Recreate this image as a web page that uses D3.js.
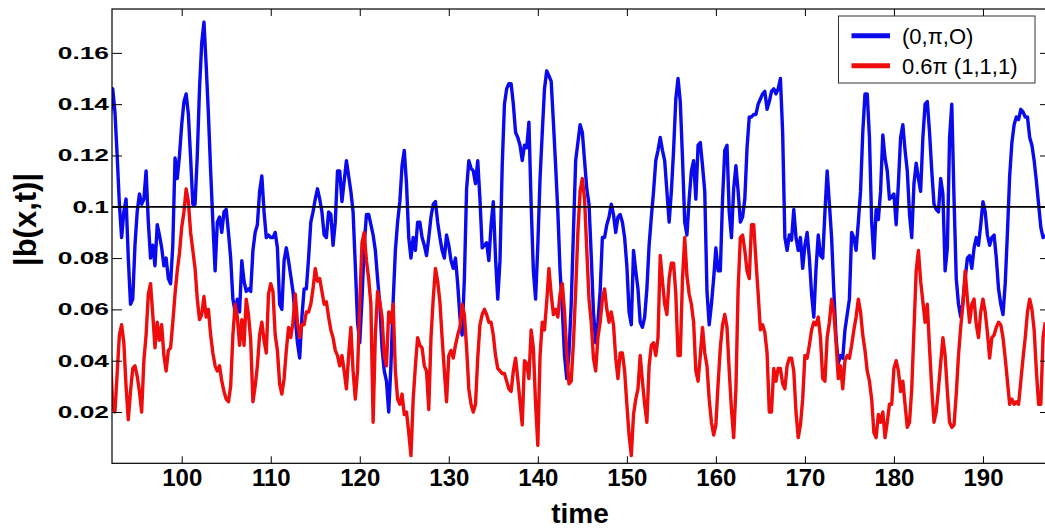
<!DOCTYPE html>
<html>
<head>
<meta charset="utf-8">
<script src="https://cdn.jsdelivr.net/npm/d3@7"></script>
<style>
  html, body { margin: 0; padding: 0; background: #fff; }
  svg { display: block; font-family: "Liberation Sans", Arial, Helvetica, sans-serif; }
</style>
</head>
<body>
<svg id="chart" width="1045" height="529"></svg>
<script>
// sampling grid of the time axis
const tStart = 92;
const tStep = 0.25;

// |b(x,t)| for (0,pi,O)  -- four samples per time unit
const blueValues = [
  0.136, 0.146, 0.137, 0.120,  // 92
  0.101, 0.088, 0.098, 0.103,  // 93
  0.080, 0.062, 0.064, 0.085,  // 94
  0.098, 0.105, 0.101, 0.103,  // 95
  0.114, 0.094, 0.080, 0.085,  // 96
  0.077, 0.093, 0.089, 0.084,  // 97
  0.077, 0.080, 0.072, 0.070,  // 98
  0.085, 0.119, 0.111, 0.120,  // 99
  0.132, 0.141, 0.144, 0.136,  // 100
  0.119, 0.101, 0.101, 0.120,  // 101
  0.146, 0.164, 0.172, 0.155,  // 102
  0.136, 0.114, 0.094, 0.075,  // 103
  0.094, 0.096, 0.090, 0.098,  // 104
  0.099, 0.090, 0.080, 0.064,  // 105
  0.059, 0.064, 0.059, 0.079,  // 106
  0.071, 0.067, 0.068, 0.067,  // 107
  0.083, 0.090, 0.093, 0.106,  // 108
  0.112, 0.098, 0.088, 0.089,  // 109
  0.088, 0.088, 0.090, 0.084,  // 110
  0.062, 0.060, 0.079, 0.084,  // 111
  0.079, 0.073, 0.067, 0.057,  // 112
  0.047, 0.041, 0.057, 0.068,  // 113
  0.068, 0.080, 0.094, 0.098,  // 114
  0.103, 0.107, 0.103, 0.098,  // 115
  0.089, 0.088, 0.098, 0.097,  // 116
  0.085, 0.094, 0.114, 0.114,  // 117
  0.102, 0.110, 0.118, 0.112,  // 118
  0.106, 0.098, 0.077, 0.055,  // 119
  0.047, 0.064, 0.085, 0.097,  // 120
  0.097, 0.093, 0.089, 0.083,  // 121
  0.072, 0.062, 0.045, 0.036,  // 122
  0.032, 0.020, 0.038, 0.063,  // 123
  0.083, 0.094, 0.102, 0.116,  // 124
  0.122, 0.109, 0.088, 0.080,  // 125
  0.088, 0.083, 0.094, 0.094,  // 126
  0.088, 0.085, 0.081, 0.088,  // 127
  0.096, 0.101, 0.102, 0.094,  // 128
  0.088, 0.083, 0.080, 0.089,  // 129
  0.085, 0.079, 0.076, 0.080,  // 130
  0.070, 0.057, 0.050, 0.072,  // 131
  0.107, 0.118, 0.115, 0.114,  // 132
  0.109, 0.118, 0.103, 0.084,  // 133
  0.085, 0.086, 0.079, 0.093,  // 134
  0.102, 0.080, 0.064, 0.079,  // 135
  0.116, 0.140, 0.146, 0.148,  // 136
  0.148, 0.140, 0.129, 0.127,  // 137
  0.124, 0.118, 0.124, 0.123,  // 138
  0.133, 0.101, 0.075, 0.064,  // 139
  0.085, 0.111, 0.129, 0.146,  // 140
  0.153, 0.151, 0.149, 0.133,  // 141
  0.116, 0.098, 0.075, 0.060,  // 142
  0.042, 0.033, 0.043, 0.062,  // 143
  0.090, 0.118, 0.125, 0.132,  // 144
  0.129, 0.118, 0.107, 0.101,  // 145
  0.081, 0.059, 0.047, 0.055,  // 146
  0.067, 0.088, 0.088, 0.093,  // 147
  0.096, 0.101, 0.097, 0.090,  // 148
  0.096, 0.097, 0.094, 0.088,  // 149
  0.077, 0.059, 0.054, 0.083,  // 150
  0.075, 0.068, 0.055, 0.053,  // 151
  0.057, 0.068, 0.085, 0.096,  // 152
  0.106, 0.118, 0.122, 0.127,  // 153
  0.122, 0.118, 0.106, 0.094,  // 154
  0.106, 0.122, 0.142, 0.150,  // 155
  0.141, 0.119, 0.094, 0.089,  // 156
  0.103, 0.114, 0.118, 0.103,  // 157
  0.124, 0.125, 0.116, 0.106,  // 158
  0.067, 0.054, 0.062, 0.072,  // 159
  0.084, 0.075, 0.075, 0.103,  // 160
  0.122, 0.124, 0.098, 0.088,  // 161
  0.107, 0.116, 0.106, 0.094,  // 162
  0.096, 0.103, 0.123, 0.135,  // 163
  0.135, 0.136, 0.136, 0.140,  // 164
  0.142, 0.144, 0.145, 0.138,  // 165
  0.141, 0.145, 0.146, 0.144,  // 166
  0.146, 0.150, 0.129, 0.088,  // 167
  0.083, 0.089, 0.087, 0.099,  // 168
  0.088, 0.083, 0.088, 0.076,  // 169
  0.085, 0.090, 0.080, 0.066,  // 170
  0.057, 0.076, 0.089, 0.081,  // 171
  0.080, 0.098, 0.114, 0.101,  // 172
  0.088, 0.067, 0.049, 0.039,  // 173
  0.042, 0.041, 0.052, 0.058,  // 174
  0.064, 0.090, 0.088, 0.083,  // 175
  0.094, 0.106, 0.129, 0.144,  // 176
  0.144, 0.127, 0.094, 0.080,  // 177
  0.099, 0.095, 0.106, 0.128,  // 178
  0.119, 0.114, 0.103, 0.104,  // 179
  0.105, 0.093, 0.109, 0.127,  // 180
  0.132, 0.122, 0.114, 0.097,  // 181
  0.088, 0.109, 0.117, 0.111,  // 182
  0.106, 0.127, 0.140, 0.141,  // 183
  0.129, 0.114, 0.101, 0.099,  // 184
  0.098, 0.111, 0.105, 0.075,  // 185
  0.084, 0.127, 0.140, 0.103,  // 186
  0.072, 0.062, 0.057, 0.063,  // 187
  0.072, 0.080, 0.081, 0.076,  // 188
  0.084, 0.088, 0.085, 0.093,  // 189
  0.102, 0.098, 0.089, 0.085,  // 190
  0.088, 0.089, 0.080, 0.068,  // 191
  0.062, 0.058, 0.070, 0.090,  // 192
  0.112, 0.125, 0.132, 0.135,  // 193
  0.134, 0.138, 0.137, 0.135,  // 194
  0.135, 0.127, 0.124, 0.118,  // 195
  0.110, 0.101, 0.092, 0.088,  // 196
  0.089                        // 197
];

// |b(x,t)| for 0.6pi (1,1,1)
const redValues = [
  0.042, 0.022, 0.020, 0.035,  // 92
  0.050, 0.054, 0.047, 0.030,  // 93
  0.017, 0.028, 0.037, 0.038,  // 94
  0.034, 0.028, 0.020, 0.040,  // 95
  0.050, 0.066, 0.070, 0.058,  // 96
  0.045, 0.055, 0.048, 0.054,  // 97
  0.042, 0.036, 0.044, 0.045,  // 98
  0.055, 0.066, 0.075, 0.082,  // 99
  0.092, 0.098, 0.107, 0.102,  // 100
  0.090, 0.083, 0.076, 0.064,  // 101
  0.056, 0.058, 0.065, 0.057,  // 102
  0.060, 0.050, 0.043, 0.038,  // 103
  0.036, 0.038, 0.032, 0.028,  // 104
  0.025, 0.024, 0.030, 0.050,  // 105
  0.062, 0.057, 0.046, 0.056,  // 106
  0.046, 0.064, 0.058, 0.048,  // 107
  0.024, 0.030, 0.038, 0.050,  // 108
  0.055, 0.048, 0.043, 0.066,  // 109
  0.070, 0.067, 0.050, 0.044,  // 110
  0.031, 0.027, 0.033, 0.044,  // 111
  0.053, 0.049, 0.055, 0.066,  // 112
  0.055, 0.049, 0.054, 0.054,  // 113
  0.059, 0.059, 0.062, 0.068,  // 114
  0.076, 0.071, 0.072, 0.067,  // 115
  0.062, 0.063, 0.057, 0.052,  // 116
  0.049, 0.044, 0.042, 0.038,  // 117
  0.042, 0.036, 0.029, 0.042,  // 118
  0.053, 0.036, 0.025, 0.036,  // 119
  0.062, 0.086, 0.090, 0.079,  // 120
  0.072, 0.062, 0.016, 0.050,  // 121
  0.067, 0.063, 0.057, 0.042,  // 122
  0.038, 0.059, 0.055, 0.062,  // 123
  0.036, 0.025, 0.023, 0.027,  // 124
  0.019, 0.020, 0.012, 0.003,  // 125
  0.025, 0.038, 0.049, 0.046,  // 126
  0.045, 0.038, 0.036, 0.021,  // 127
  0.049, 0.064, 0.076, 0.071,  // 128
  0.063, 0.049, 0.036, 0.024,  // 129
  0.042, 0.044, 0.041, 0.046,  // 130
  0.050, 0.053, 0.062, 0.058,  // 131
  0.045, 0.029, 0.023, 0.020,  // 132
  0.023, 0.041, 0.054, 0.058,  // 133
  0.060, 0.058, 0.055, 0.055,  // 134
  0.050, 0.042, 0.037, 0.036,  // 135
  0.035, 0.035, 0.032, 0.029,  // 136
  0.028, 0.036, 0.041, 0.033,  // 137
  0.024, 0.015, 0.040, 0.039,  // 138
  0.033, 0.052, 0.045, 0.023,  // 139
  0.007, 0.042, 0.055, 0.052,  // 140
  0.063, 0.076, 0.066, 0.058,  // 141
  0.060, 0.057, 0.066, 0.070,  // 142
  0.059, 0.043, 0.031, 0.032,  // 143
  0.047, 0.067, 0.090, 0.106,  // 144
  0.111, 0.103, 0.083, 0.064,  // 145
  0.055, 0.041, 0.036, 0.049,  // 146
  0.055, 0.064, 0.068, 0.060,  // 147
  0.055, 0.059, 0.054, 0.041,  // 148
  0.033, 0.043, 0.043, 0.036,  // 149
  0.023, 0.011, 0.003, 0.019,  // 150
  0.025, 0.029, 0.042, 0.032,  // 151
  0.023, 0.016, 0.038, 0.046,  // 152
  0.047, 0.042, 0.049, 0.081,  // 153
  0.071, 0.062, 0.058, 0.072,  // 154
  0.078, 0.078, 0.066, 0.042,  // 155
  0.042, 0.072, 0.088, 0.073,  // 156
  0.066, 0.062, 0.055, 0.036,  // 157
  0.032, 0.042, 0.053, 0.043,  // 158
  0.038, 0.025, 0.016, 0.011,  // 159
  0.015, 0.031, 0.045, 0.054,  // 160
  0.058, 0.053, 0.036, 0.021,  // 161
  0.010, 0.029, 0.068, 0.088,  // 162
  0.089, 0.083, 0.075, 0.072,  // 163
  0.093, 0.093, 0.079, 0.066,  // 164
  0.052, 0.054, 0.051, 0.043,  // 165
  0.020, 0.020, 0.037, 0.032,  // 166
  0.037, 0.037, 0.031, 0.029,  // 167
  0.038, 0.041, 0.041, 0.036,  // 168
  0.020, 0.010, 0.015, 0.025,  // 169
  0.042, 0.041, 0.046, 0.052,  // 170
  0.055, 0.054, 0.057, 0.049,  // 171
  0.033, 0.032, 0.049, 0.055,  // 172
  0.064, 0.059, 0.047, 0.033,  // 173
  0.038, 0.029, 0.040, 0.042,  // 174
  0.041, 0.046, 0.052, 0.057,  // 175
  0.064, 0.059, 0.050, 0.044,  // 176
  0.036, 0.032, 0.025, 0.012,  // 177
  0.010, 0.019, 0.016, 0.020,  // 178
  0.010, 0.016, 0.023, 0.023,  // 179
  0.037, 0.040, 0.036, 0.028,  // 180
  0.032, 0.023, 0.014, 0.016,  // 181
  0.029, 0.052, 0.075, 0.083,  // 182
  0.071, 0.063, 0.055, 0.062,  // 183
  0.045, 0.029, 0.016, 0.020,  // 184
  0.029, 0.039, 0.049, 0.042,  // 185
  0.028, 0.016, 0.014, 0.015,  // 186
  0.027, 0.042, 0.053, 0.062,  // 187
  0.075, 0.064, 0.055, 0.062,  // 188
  0.064, 0.054, 0.049, 0.059,  // 189
  0.064, 0.059, 0.051, 0.041,  // 190
  0.049, 0.050, 0.053, 0.055,  // 191
  0.054, 0.049, 0.041, 0.032,  // 192
  0.023, 0.025, 0.023, 0.024,  // 193
  0.023, 0.032, 0.041, 0.049,  // 194
  0.059, 0.064, 0.060, 0.052,  // 195
  0.036, 0.023, 0.023, 0.049,  // 196
  0.055                        // 197
];

const seriesNames = ["(0,\u03c0,O)", "0.6\u03c0 (1,1,1)"];
const seriesColors = ["#0a0aee", "#ee0c0c"];
const xTicks = [100, 110, 120, 130, 140, 150, 160, 170, 180, 190];
const yTicks = [0.02, 0.04, 0.06, 0.08, 0.1, 0.12, 0.14, 0.16];
const xDomain = [92.17, 197.53];
const yDomain = [0, 0.1771];
const refLevel = 0.1;
const xLabel = "time";
const yLabel = "|b(x,t)|";

// ---------------------------------------------------------------
const svg = d3.select("#chart");
svg.append("rect").attr("width", 1045).attr("height", 529).attr("fill", "#fff");

const L = 112, R = 1050, T = 9, B = 463.3;
const x = d3.scaleLinear().domain(xDomain).range([L, R]);
const y = d3.scaleLinear().domain(yDomain).range([B, T]);

svg.append("defs").append("clipPath").attr("id", "plotclip")
  .append("rect").attr("x", L).attr("y", T).attr("width", R - L).attr("height", B - T);

const plot = svg.append("g").attr("clip-path", "url(#plotclip)");

const line = d3.line()
  .x((d, i) => x(tStart + i * tStep))
  .y(d => y(d));

[blueValues, redValues].forEach((vals, k) => {
  plot.append("path")
    .datum(vals)
    .attr("fill", "none")
    .attr("stroke", seriesColors[k])
    .attr("stroke-width", 3.4)
    .attr("stroke-linejoin", "round")
    .attr("d", line);
});

// reference line at 0.1
svg.append("line")
  .attr("x1", L).attr("x2", R)
  .attr("y1", y(refLevel)).attr("y2", y(refLevel))
  .attr("stroke", "#000").attr("stroke-width", 1.8);

// axes
const fmt = d => String(+d.toFixed(2));

const gBottom = svg.append("g").attr("transform", `translate(0,${B})`)
  .call(d3.axisBottom(x).tickValues(xTicks).tickSizeInner(-7).tickSizeOuter(0).tickPadding(6));
gBottom.selectAll("text")
  .attr("font-size", 24).attr("font-weight", "bold").attr("fill", "#000")
  .attr("font-family", "'Liberation Sans', Arial, sans-serif");

const gTop = svg.append("g").attr("transform", `translate(0,${T})`)
  .call(d3.axisTop(x).tickValues(xTicks).tickSizeInner(-7).tickSizeOuter(0).tickFormat(""));

const gLeft = svg.append("g").attr("transform", `translate(${L},0)`)
  .call(d3.axisLeft(y).tickValues(yTicks).tickSizeInner(-10).tickSizeOuter(0).tickFormat(fmt));
gLeft.selectAll("text")
  .attr("x", 0)
  .attr("transform", "translate(-3,0) scale(1.55,1)")
  .attr("font-size", 17).attr("font-weight", "bold").attr("fill", "#000")
  .attr("font-family", "'Liberation Sans', Arial, sans-serif");

const gRight = svg.append("g").attr("transform", `translate(${R},0)`)
  .call(d3.axisRight(y).tickValues(yTicks).tickSizeInner(-10).tickSizeOuter(0).tickFormat(""));

[gBottom, gTop, gLeft, gRight].forEach(g => {
  g.select(".domain").remove();
  g.selectAll(".tick line").attr("stroke", "#000").attr("stroke-width", 1);
});

// frame
svg.append("rect")
  .attr("x", L).attr("y", T).attr("width", R - L).attr("height", B - T)
  .attr("fill", "none").attr("stroke", "#000").attr("stroke-width", 1.2);

// axis labels
svg.append("text")
  .attr("x", 580).attr("y", 523)
  .attr("text-anchor", "middle")
  .attr("font-size", 28).attr("font-weight", "bold")
  .text(xLabel);

svg.append("text")
  .attr("transform", "translate(35.5,219.5) rotate(-90)")
  .attr("text-anchor", "middle")
  .attr("font-size", 31).attr("font-weight", "bold")
  .text(yLabel);

// legend
const leg = svg.append("g");
leg.append("rect")
  .attr("x", 838.5).attr("y", 16).attr("width", 196.5).attr("height", 67)
  .attr("fill", "#fff").attr("stroke", "#333").attr("stroke-width", 1);
seriesNames.forEach((name, k) => {
  const cy = 35.7 + k * 30;
  leg.append("line")
    .attr("x1", 851.5).attr("x2", 890).attr("y1", cy).attr("y2", cy)
    .attr("stroke", seriesColors[k]).attr("stroke-width", 5);
  leg.append("text")
    .attr("x", 902).attr("y", cy + 7.8)
    .attr("font-size", 22)
    .attr("fill", "#000")
    .text(name);
});
</script>
</body>
</html>
